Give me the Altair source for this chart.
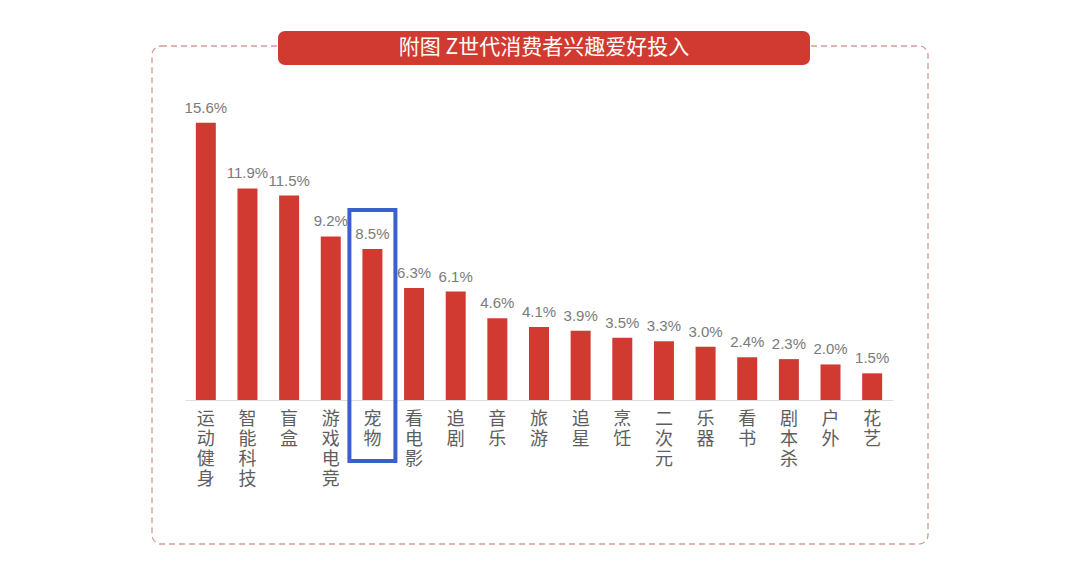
import altair as alt
import pandas as pd

categories = ["运动健身", "智能科技", "盲盒", "游戏电竞", "宠物", "看电影", "追剧", "音乐", "旅游",
              "追星", "烹饪", "二次元", "乐器", "看书", "剧本杀", "户外", "花艺"]
values = [15.6, 11.9, 11.5, 9.2, 8.5, 6.3, 6.1, 4.6, 4.1, 3.9, 3.5, 3.3, 3.0, 2.4, 2.3, 2.0, 1.5]
value_labels = ["15.6%", "11.9%", "11.5%", "9.2%", "8.5%", "6.3%", "6.1%", "4.6%", "4.1%",
                "3.9%", "3.5%", "3.3%", "3.0%", "2.4%", "2.3%", "2.0%", "1.5%"]
highlight = "宠物"
title_text = "附图 Z世代消费者兴趣爱好投入"

df = pd.DataFrame({
    "cat": categories,
    "val": values,
    "lbl": value_labels,
    "vert": ["\n".join(list(c)) for c in categories],
})

FONT = "Noto Sans CJK SC"
W, H = 708, 320

x_enc = alt.X("cat:N", sort=categories,
              scale=alt.Scale(paddingInner=0.52, paddingOuter=0.26),
              axis=alt.Axis(title=None, labels=False, ticks=False, domain=True,
                            domainColor="#dddddd", domainWidth=1, grid=False))
y_scale = alt.Scale(domain=[0, 18], nice=False)

base = alt.Chart(df)

bars = base.mark_bar(color="#d03a30").encode(
    x=x_enc,
    y=alt.Y("val:Q", scale=y_scale, axis=None),
)

vlabels = base.mark_text(font="Liberation Sans", fontSize=15, color="#7a7a7a", baseline="bottom", dy=-7).encode(
    x=alt.X("cat:N", sort=categories),
    y=alt.Y("val:Q", scale=y_scale),
    text="lbl:N",
)

clabels = base.mark_text(font=FONT, fontSize=18, color="#5e5e5e", baseline="top",
                         lineBreak="\n", lineHeight=20).encode(
    x=alt.X("cat:N", sort=categories),
    y=alt.value(331),
    text="vert:N",
)

hl = base.transform_filter(alt.datum.cat == highlight).mark_bar(
    filled=False, stroke="#3b5fcf", strokeWidth=4, fill=None, width=46).encode(
    x=alt.X("cat:N", sort=categories),
    y=alt.value(130),
    y2=alt.value(381),
)

border_df = pd.DataFrame({"k": ["border"]})
border = alt.Chart(border_df).mark_rect(
    fill=None, filled=False, stroke="#d49a96", strokeWidth=1.3, strokeDash=[6, 4], cornerRadius=9
).encode(
    x=alt.value(-33), x2=alt.value(743), y=alt.value(-34), y2=alt.value(464),
)

banner = alt.Chart(border_df).mark_rect(
    fill="#d03a30", cornerRadius=7
).encode(
    x=alt.value(93), x2=alt.value(625), y=alt.value(-49), y2=alt.value(-15),
)

title_df = pd.DataFrame({"t": [title_text]})
title = alt.Chart(title_df).mark_text(
    font=FONT, fontSize=21, color="white", align="center", baseline="middle"
).encode(
    x=alt.value(359), y=alt.value(-32), text="t:N",
)

chart = alt.layer(border, banner, title, bars, vlabels, clabels, hl).properties(
    width=W, height=H,
    padding={"left": 177, "top": 72, "right": 179, "bottom": 155},
    autosize=alt.AutoSizeParams(type="none"),
    background="white",
).configure_view(strokeWidth=0, stroke=None)

chart.save("out.html", embed_options={"renderer": "svg", "actions": False})
